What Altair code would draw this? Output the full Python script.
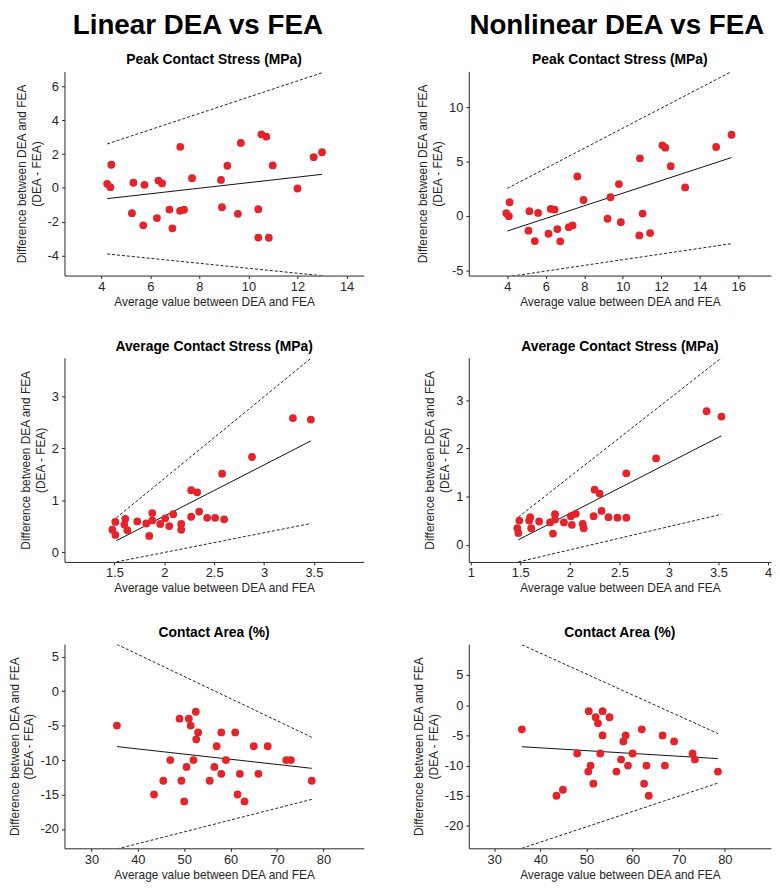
import altair as alt
import pandas as pd

# ---------------- data ----------------
# Peak contact stress, linear DEA vs FEA
peak_lin_x = [4.24, 4.37, 4.41, 5.25, 5.31, 5.71, 5.76, 6.27, 6.33, 6.48, 6.78, 6.90, 7.22, 7.21, 7.37,
              7.70, 8.88, 8.92, 9.14, 9.57, 9.69, 10.40, 10.40, 10.53, 10.73, 10.83, 10.99, 12.00, 12.66, 13.00]
peak_lin_y = [0.24, 0.04, 1.37, -1.50, 0.30, -2.22, 0.18, -1.79, 0.43, 0.26, -1.29, -2.40, 2.43, -1.36, -1.30,
              0.57, 0.47, -1.15, 1.31, -1.54, 2.66, -1.27, -2.95, 3.17, 3.03, -2.96, 1.33, -0.04, 1.82, 2.11]
peak_lin_fit_x = [4.24, 13.0]
peak_lin_fit_y = [-0.64, 0.80]
peak_lin_upper = [2.60, 6.82]
peak_lin_lower = [-3.92, -5.21]

# Peak contact stress, nonlinear DEA vs FEA
peak_non_x = [3.95, 4.08, 4.12, 5.10, 5.15, 5.43, 5.60, 6.14, 6.26, 6.46, 6.60, 6.75, 7.20, 7.39, 7.64,
              7.96, 9.21, 9.36, 9.80, 9.90, 10.86, 10.89, 11.03, 11.42, 12.06, 12.21, 12.49, 13.24, 14.85, 15.65]
peak_non_y = [0.24, -0.03, 1.25, -1.37, 0.43, -2.32, 0.27, -1.65, 0.64, 0.58, -1.22, -2.35, -1.04, -0.88, 3.63,
              1.46, -0.27, 1.71, 2.93, -0.58, -1.80, 5.30, 0.21, -1.59, 6.49, 6.28, 4.57, 2.62, 6.34, 7.47]
peak_non_fit_x = [4.0, 15.65]
peak_non_fit_y = [-1.40, 5.37]
peak_non_upper = [2.53, 13.29]
peak_non_lower = [-5.61, -2.56]

# Average contact stress, linear
avg_lin_x = [1.48, 1.51, 1.51, 1.60, 1.61, 1.63, 1.73, 1.82, 1.85, 1.88, 1.88, 1.96, 2.01, 2.05, 2.09,
             2.17, 2.17, 2.27, 2.27, 2.33, 2.35, 2.43, 2.51, 2.58, 2.60, 2.88, 3.29, 3.47]
avg_lin_y = [0.43, 0.33, 0.58, 0.53, 0.64, 0.42, 0.59, 0.55, 0.31, 0.75, 0.61, 0.54, 0.65, 0.50, 0.73,
             0.54, 0.43, 1.19, 0.68, 1.15, 0.78, 0.66, 0.66, 1.51, 0.63, 1.83, 2.58, 2.55]
avg_lin_fit_x = [1.52, 3.47]
avg_lin_fit_y = [0.22, 2.14]
avg_lin_upper = [0.66, 3.73]
avg_lin_lower = [-0.19, 0.55]

# Average contact stress, nonlinear
avg_non_x = [1.47, 1.48, 1.49, 1.59, 1.60, 1.61, 1.69, 1.80, 1.83, 1.85, 1.85, 1.94, 2.01, 2.02, 2.06,
             2.13, 2.14, 2.24, 2.25, 2.30, 2.32, 2.39, 2.48, 2.57, 2.57, 2.87, 3.38, 3.53]
avg_non_y = [0.34, 0.24, 0.50, 0.50, 0.57, 0.34, 0.48, 0.46, 0.23, 0.63, 0.52, 0.46, 0.59, 0.41, 0.64,
             0.43, 0.34, 0.59, 1.14, 1.06, 0.70, 0.57, 0.56, 0.56, 1.48, 1.79, 2.77, 2.66]
avg_non_fit_x = [1.48, 3.53]
avg_non_fit_y = [0.10, 2.26]
avg_non_upper = [0.57, 3.88]
avg_non_lower = [-0.36, 0.63]

# Contact area, linear
area_lin_x = [35.5, 43.5, 45.5, 47.0, 49.0, 49.4, 50.0, 50.5, 51.0, 51.4, 52.0, 52.5, 52.6, 53.0, 55.5,
              56.5, 57.0, 58.0, 58.0, 59.0, 61.0, 61.5, 62.0, 63.0, 65.0, 66.0, 68.0, 72.0, 73.0, 77.5]
area_lin_y = [-5, -15, -13, -10, -4, -13, -16, -11, -4, -5, -10, -3, -7, -6, -13,
              -11, -8, -6, -12, -10, -6, -15, -12, -16, -8, -12, -8, -10, -10, -13]
area_lin_fit_x = [35.5, 77.5]
area_lin_fit_y = [-8.05, -11.2]
area_lin_upper = [6.77, -6.7]
area_lin_lower = [-22.9, -15.7]

# Contact area, nonlinear
area_non_x = [36.0, 43.5, 44.9, 48.0, 50.4, 50.5, 50.9, 51.5, 52.0, 52.5, 53.0, 53.5, 53.5, 55.0, 56.5,
              57.5, 58.0, 58.5, 59.0, 60.0, 62.0, 62.5, 63.0, 63.5, 66.5, 67.0, 69.0, 73.0, 73.5, 78.5]
area_non_y = [-4, -15, -14, -8, -11, -1, -10, -13, -2, -3, -8, -1, -5, -2, -11,
              -9, -6, -5, -10, -8, -4, -13, -10, -15, -5, -10, -6, -8, -9, -11]
area_non_fit_x = [36.0, 78.5]
area_non_fit_y = [-6.88, -8.85]
area_non_upper = [10.0, -4.7]
area_non_lower = [-23.7, -12.9]

# ---------------- chart ----------------
RED = "#e3242b"
Y_TITLE = ["Difference between DEA and FEA", "(DEA - FEA)"]
X_TITLE = "Average value between DEA and FEA"
LABEL_EXPR = "datum.value < 0 ? '-' + format(-datum.value, '~r') : format(datum.value, '~r')"


def panel(xs, ys, fx, fy, up, lo, title, xdom, ydom, xticks, yticks, w, h):
    pts = pd.DataFrame({"x": xs, "y": ys})
    lines = pd.DataFrame({"x": fx, "fit": fy, "upper": up, "lower": lo})
    xenc = alt.X("x:Q", scale=alt.Scale(domain=xdom, nice=False, zero=False),
                 axis=alt.Axis(values=xticks, title=X_TITLE, labelExpr=LABEL_EXPR,
                               labelPadding=2, titlePadding=3))
    yscale = alt.Scale(domain=ydom, nice=False, zero=False)
    yaxis = alt.Axis(values=yticks, title=Y_TITLE, labelExpr=LABEL_EXPR,
                     labelPadding=3, titlePadding=4)
    points = alt.Chart(pts).mark_circle(size=62, color=RED, opacity=1, clip=True).encode(
        x=xenc, y=alt.Y("y:Q", scale=yscale, axis=yaxis))
    fit = alt.Chart(lines).mark_line(color="#111111", strokeWidth=1, clip=True).encode(
        x=xenc, y=alt.Y("fit:Q", scale=yscale, axis=yaxis))
    upper = alt.Chart(lines).mark_line(color="#222222", strokeWidth=1, strokeDash=[3, 2], clip=True).encode(
        x=xenc, y=alt.Y("upper:Q", scale=yscale, axis=yaxis))
    lower = alt.Chart(lines).mark_line(color="#222222", strokeWidth=1, strokeDash=[3, 2], clip=True).encode(
        x=xenc, y=alt.Y("lower:Q", scale=yscale, axis=yaxis))
    return alt.layer(fit, upper, lower, points).properties(
        width=w, height=h,
        title=alt.TitleParams(title, fontSize=14, fontWeight="bold", font="Liberation Sans",
                              color="#000000", offset=4))


LW, RW, H = 302, 305, 206

p1 = panel(peak_lin_x, peak_lin_y, peak_lin_fit_x, peak_lin_fit_y, peak_lin_upper, peak_lin_lower,
           "Peak Contact Stress (MPa)", [2.5, 14.7], [-5.2, 6.9], [4, 6, 8, 10, 12, 14],
           [-4, -2, 0, 2, 4, 6], LW, H)
p2 = panel(peak_non_x, peak_non_y, peak_non_fit_x, peak_non_fit_y, peak_non_upper, peak_non_lower,
           "Peak Contact Stress (MPa)", [2.0, 17.7], [-5.5, 13.3], [4, 6, 8, 10, 12, 14, 16],
           [-5, 0, 5, 10], RW, H)
p3 = panel(avg_lin_x, avg_lin_y, avg_lin_fit_x, avg_lin_fit_y, avg_lin_upper, avg_lin_lower,
           "Average Contact Stress (MPa)", [1.0, 4.0], [-0.19, 3.74], [1.5, 2, 2.5, 3, 3.5],
           [0, 1, 2, 3], LW, H)
p4 = panel(avg_non_x, avg_non_y, avg_non_fit_x, avg_non_fit_y, avg_non_upper, avg_non_lower,
           "Average Contact Stress (MPa)", [0.98, 4.03], [-0.36, 3.88], [1, 1.5, 2, 2.5, 3, 3.5, 4],
           [0, 1, 2, 3], RW, H)
p5 = panel(area_lin_x, area_lin_y, area_lin_fit_x, area_lin_fit_y, area_lin_upper, area_lin_lower,
           "Contact Area (%)", [24.2, 88.7], [-22.8, 6.8], [30, 40, 50, 60, 70, 80],
           [-20, -15, -10, -5, 0, 5], LW, H)
p6 = panel(area_non_x, area_non_y, area_non_fit_x, area_non_fit_y, area_non_upper, area_non_lower,
           "Contact Area (%)", [24.5, 90.0], [-23.7, 10.1], [30, 40, 50, 60, 70, 80],
           [-20, -15, -10, -5, 0, 5], RW, H)

left = alt.vconcat(p1, p3, p5, spacing=33).properties(
    title=alt.TitleParams("Linear DEA vs FEA", fontSize=28, fontWeight="bold", font="Liberation Sans",
                          color="#000000", anchor="middle", offset=14, dx=12))
right = alt.vconcat(p2, p4, p6, spacing=33).properties(
    title=alt.TitleParams("Nonlinear DEA vs FEA", fontSize=28, fontWeight="bold", font="Liberation Sans",
                          color="#000000", anchor="middle", offset=14, dx=25))

chart = alt.hconcat(left, right, spacing=49).properties(padding=0).configure_view(stroke=None).configure_axis(
    grid=False,
    labelFont="Liberation Sans", labelFontSize=13, labelColor="#262626",
    labelFlush=False, labelOverlap=False,
    domainColor="#262626", domainWidth=1, tickColor="#262626", tickSize=3,
    titleFont="Liberation Sans", titleFontSize=12, titleFontWeight="normal", titleColor="#262626",
    titleLineHeight=15,
)

chart.save("out.html", embed_options={"renderer": "svg", "actions": False})
